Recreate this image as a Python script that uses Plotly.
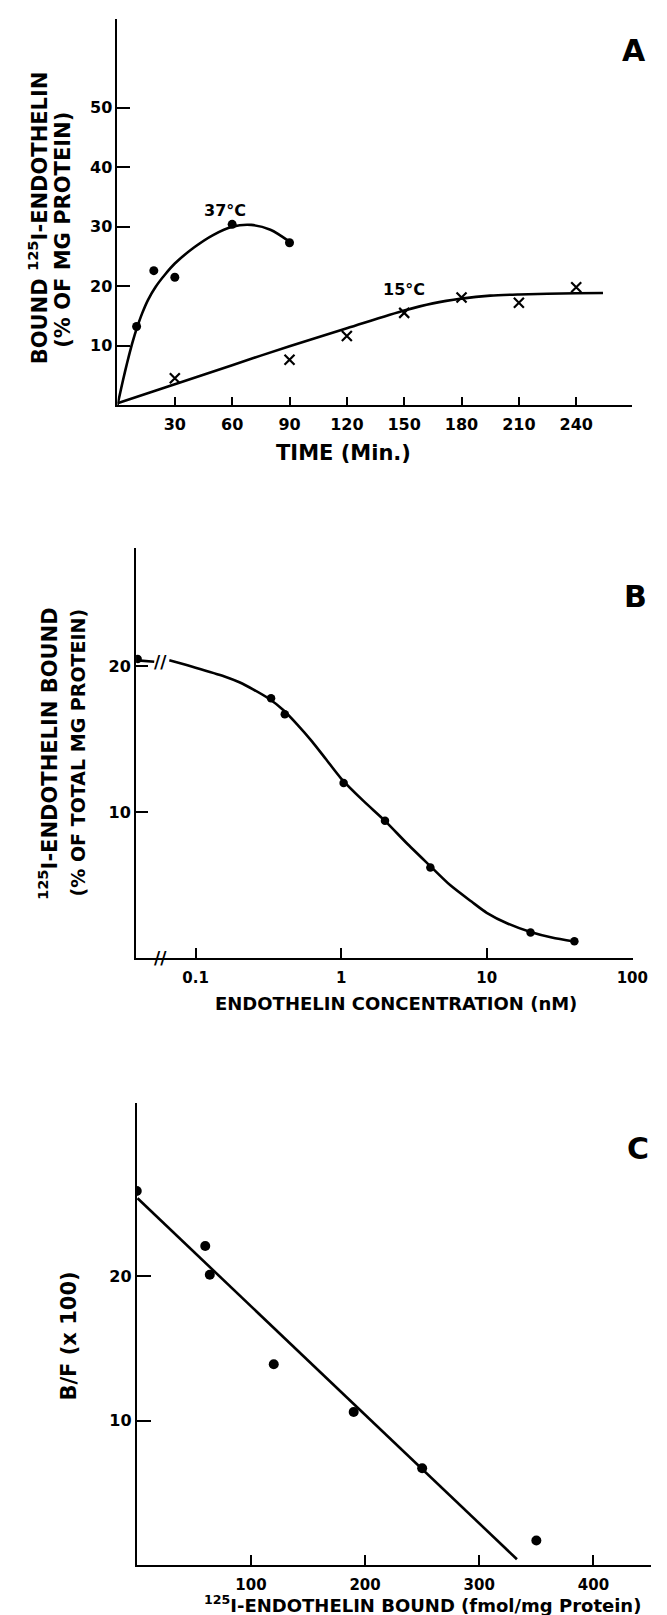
import math
import plotly.graph_objects as go

W, H = 667, 1615
FONT = "DejaVu Sans"

# ---------------- Panel A data ----------------
a_time_37 = [10, 19, 30, 60, 90]
a_bound_37 = [13.2, 22.6, 21.5, 30.4, 27.3]
a_fit_time_37 = [0, 2, 4, 6, 8, 10, 13, 16, 20, 25, 30, 40, 50, 60, 70, 80, 90]
a_fit_bound_37 = [0, 2.9, 5.7, 8.3, 10.7, 12.8, 15.5, 17.7, 19.9, 22.0, 23.8, 26.5, 28.6, 30.0, 30.3, 29.5, 27.5]

a_time_15 = [30, 90, 120, 150, 180, 210, 240]
a_bound_15 = [4.5, 7.6, 11.6, 15.5, 18.1, 17.2, 19.8]
a_fit_time_15 = [0, 30, 60, 90, 120, 150, 165, 180, 195, 210, 240, 254]
a_fit_bound_15 = [0.3, 3.5, 6.7, 9.9, 12.9, 15.9, 17.1, 17.9, 18.4, 18.6, 18.8, 18.85]

a_xticks = [30, 60, 90, 120, 150, 180, 210, 240]
a_yticks = [10, 20, 30, 40, 50]

# ---------------- Panel B data ----------------
b_conc = [0.04, 0.33, 0.41, 1.04, 2.0, 4.1, 20, 40]
b_bound = [20.5, 17.8, 16.7, 12.0, 9.4, 6.2, 1.75, 1.15]
b_fit_conc = [0.04, 0.052, None, 0.066, 0.1, 0.158, 0.2, 0.25, 0.316, 0.4, 0.5, 0.63, 0.79, 1.0,
              1.41, 2.0, 2.8, 4.0, 5.6, 7.9, 10, 14, 20, 28, 40]
b_fit_bound = [20.4, 20.3, None, 20.4, 19.9, 19.3, 18.9, 18.4, 17.8, 17.0, 16.0, 14.85, 13.6, 12.3,
               10.8, 9.4, 7.9, 6.4, 5.0, 3.85, 3.1, 2.35, 1.78, 1.4, 1.13]
b_xticks = [0.1, 1, 10, 100]
b_xticktext = ["0.1", "1", "10", "100"]
b_yticks = [10, 20]
b_break_x = 0.057
b_break_y = 20.3

# ---------------- Panel C data ----------------
c_bound = [0, 60, 64, 120, 190, 250, 350]
c_bf = [25.9, 22.1, 20.1, 13.9, 10.6, 6.7, 1.7]
c_fit_bound = [0.7, 333]
c_fit_bf = [25.4, 0.4]
c_xticks = [100, 200, 300, 400]
c_yticks = [10, 20]


def px_x(p):
    return p / W


def px_y(p):
    return 1 - p / H


fig = go.Figure()
line_style = dict(color="black", width=2.6)

# Panel A
fig.add_trace(go.Scatter(x=a_fit_time_37, y=a_fit_bound_37, mode="lines",
                         line=dict(**line_style, shape="spline", smoothing=0.8),
                         xaxis="x", yaxis="y", hoverinfo="skip"))
fig.add_trace(go.Scatter(x=a_fit_time_15, y=a_fit_bound_15, mode="lines",
                         line=dict(**line_style, shape="spline", smoothing=0.8),
                         xaxis="x", yaxis="y", hoverinfo="skip"))
fig.add_trace(go.Scatter(x=a_time_37, y=a_bound_37, mode="markers", marker=dict(color="black", size=9),
                         xaxis="x", yaxis="y"))
fig.add_trace(go.Scatter(x=a_time_15, y=a_bound_15, mode="markers",
                         marker=dict(symbol="x-thin", size=10, line=dict(color="black", width=2.2)),
                         xaxis="x", yaxis="y"))

# Panel B
fig.add_trace(go.Scatter(x=b_fit_conc, y=b_fit_bound, mode="lines",
                         line=dict(**line_style, shape="spline", smoothing=0.7),
                         connectgaps=False, xaxis="x2", yaxis="y2", hoverinfo="skip"))
fig.add_trace(go.Scatter(x=b_conc, y=b_bound, mode="markers", marker=dict(color="black", size=8.5),
                         xaxis="x2", yaxis="y2"))

# Panel C
fig.add_trace(go.Scatter(x=c_fit_bound, y=c_fit_bf, mode="lines", line=line_style,
                         xaxis="x3", yaxis="y3", hoverinfo="skip"))
fig.add_trace(go.Scatter(x=c_bound, y=c_bf, mode="markers", marker=dict(color="black", size=10),
                         xaxis="x3", yaxis="y3"))

tickfont = dict(family=FONT, size=16, color="black", weight=700)
tickfont_b = dict(family=FONT, size=15, color="black", weight=700)

common = dict(showline=True, linecolor="black", linewidth=2, showgrid=False, zeroline=False,
              ticks="inside", tickcolor="black", tickwidth=2, mirror=False, fixedrange=True)

fig.update_layout(
    width=W, height=H, margin=dict(l=0, r=0, t=0, b=0),
    paper_bgcolor="white", plot_bgcolor="white", showlegend=False,
    font=dict(family=FONT, color="black"),
    xaxis=dict(**common, domain=[px_x(112), px_x(638)], range=[0, 269], tickvals=a_xticks, ticklen=8,
               tickfont=tickfont, anchor="y", ticklabelstandoff=4),
    yaxis=dict(**common, domain=[px_y(397), px_y(10.7)], range=[0, 65], tickvals=a_yticks, ticklen=13,
               tickfont=tickfont, anchor="x"),
    xaxis2=dict(**common, type="log", domain=[px_x(131), px_x(639)],
                range=[math.log10(0.039), math.log10(100.5)], tickvals=b_xticks, ticktext=b_xticktext,
                ticklen=10, tickfont=tickfont_b, anchor="y2", ticklabelstandoff=5),
    yaxis2=dict(**common, domain=[px_y(950), px_y(540)], range=[0, 28.1], tickvals=b_yticks, ticklen=12,
                tickfont=tickfont, anchor="x2"),
    xaxis3=dict(**common, domain=[px_x(131.7), px_x(658)], range=[0, 450.6], tickvals=c_xticks, ticklen=10,
                tickfont=tickfont_b, anchor="y3", ticklabelstandoff=5),
    yaxis3=dict(**common, domain=[px_y(1557), px_y(1095)], range=[0, 32], tickvals=c_yticks, ticklen=14,
                tickfont=tickfont, anchor="x3"),
)


def note(text, x, y, size, angle=0, weight=700):
    fig.add_annotation(text=text, x=px_x(x), y=px_y(y), xref="paper", yref="paper", showarrow=False,
                       xanchor="center", yanchor="middle", textangle=angle,
                       font=dict(family=FONT, size=size, color="black", weight=weight))


# Panel A texts
note("BOUND <sup>125</sup>I-ENDOTHELIN", 31, 210, 21, -90)
note("(% OF MG PROTEIN)", 56, 222, 21, -90)
note("TIME (Min.)", 343, 445, 21)
note("A", 640, 43, 30)
fig.add_annotation(text="37°C", x=56, y=32.8, xref="x", yref="y", showarrow=False,
                   font=dict(family=FONT, size=16, color="black", weight=700))
fig.add_annotation(text="15°C", x=150, y=19.4, xref="x", yref="y", showarrow=False,
                   font=dict(family=FONT, size=16, color="black", weight=700))

# Panel B texts
note("<sup>125</sup>I-ENDOTHELIN BOUND", 41, 746, 21, -90)
note("(% OF TOTAL MG PROTEIN)", 72, 744, 19, -90)
note("ENDOTHELIN CONCENTRATION (nM)", 397, 995, 18)
note("B", 642, 588, 30)
for yb in [b_break_y, 0]:
    fig.add_annotation(text="//", x=math.log10(b_break_x), y=yb, xref="x2", yref="y2", showarrow=False,
                       font=dict(family=FONT, size=17, color="black", weight=700))

# Panel C texts
note("B/F (x 100)", 62, 1328, 21, -90)
note("<sup>125</sup>I-ENDOTHELIN BOUND (fmol/mg Protein)", 424, 1596, 18)
note("C", 645, 1140, 30)

fig.write_html("out.html")
